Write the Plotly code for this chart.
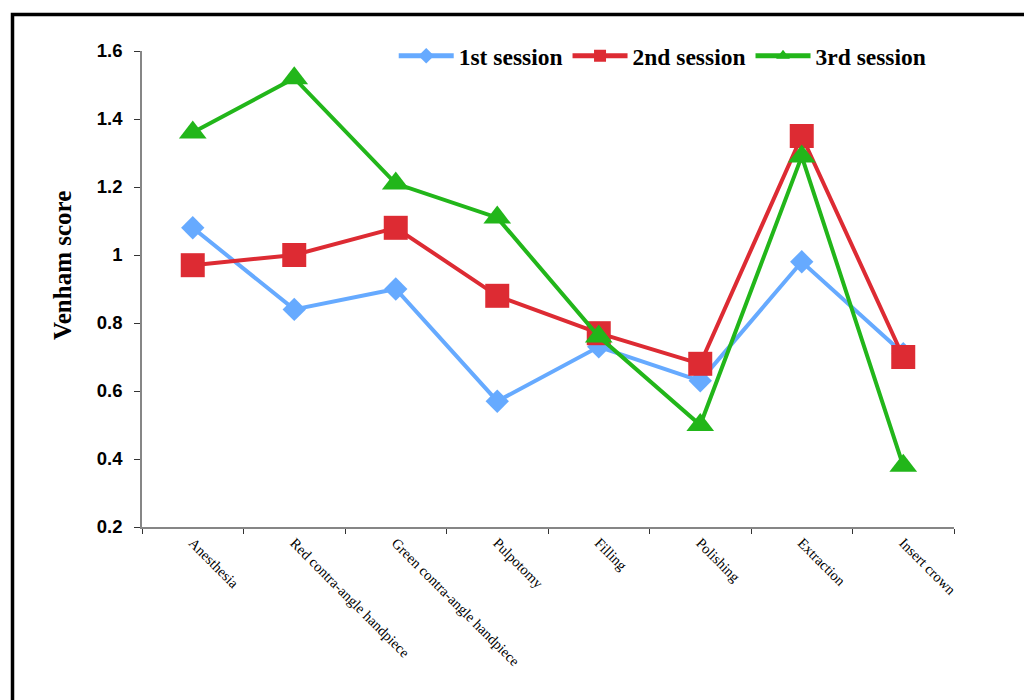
import plotly.graph_objects as go

# Dental procedures on the x axis
procedures = [
    "Anesthesia",
    "Red contra-angle handpiece",
    "Green contra-angle handpiece",
    "Pulpotomy",
    "Filling",
    "Polishing",
    "Extraction",
    "Insert crown",
]

# Mean Venham score per session
session1 = [1.08, 0.84, 0.90, 0.57, 0.73, 0.63, 0.98, 0.71]
session2 = [0.97, 1.00, 1.08, 0.88, 0.77, 0.68, 1.35, 0.70]
session3 = [1.36, 1.52, 1.21, 1.11, 0.76, 0.50, 1.29, 0.38]

series_names = ["1st session", "2nd session", "3rd session"]
y_ticks = [0.2, 0.4, 0.6, 0.8, 1.0, 1.2, 1.4, 1.6]
y_tick_text = ["0.2", "0.4", "0.6", "0.8", "1", "1.2", "1.4", "1.6"]

styles = [
    dict(color="#66AAFF", symbol="diamond", size=18),
    dict(color="#DD2B33", symbol="square", size=24),
    dict(color="#22B61A", symbol="triangle-up", size=24),
]

fig = go.Figure()
for name, vals, st in zip(series_names, [session1, session2, session3], styles):
    fig.add_trace(go.Scatter(
        x=procedures,
        y=vals,
        name=name,
        mode="lines+markers",
        line=dict(color=st["color"], width=4),
        marker=dict(color=st["color"], symbol=st["symbol"], size=st["size"],
                    line=dict(width=0)),
    ))

axis_grey = "#868686"

fig.update_layout(
    width=1024,
    height=700,
    margin=dict(l=142, r=70, t=51, b=173),
    paper_bgcolor="white",
    plot_bgcolor="white",
    showlegend=True,
    legend=dict(
        orientation="h",
        x=0.31, y=0.9895, xanchor="left", yanchor="middle",
        font=dict(family="Liberation Serif", size=23.5, color="black", weight="bold"),
        bgcolor="rgba(0,0,0,0)",
        itemwidth=55,
        itemsizing="constant",
    ),
    xaxis=dict(
        type="category",
        range=[-0.5, 7.5],
        showline=True, linecolor=axis_grey, linewidth=1.5,
        ticks="outside", tickson="boundaries", ticklen=5,
        tickcolor="#333333", tickwidth=1,
        tickangle=45,
        tickfont=dict(family="Liberation Serif", size=14.5, color="black"),
        showgrid=False, zeroline=False,
    ),
    yaxis=dict(
        range=[0.2, 1.6],
        tickvals=y_ticks, ticktext=y_tick_text,
        showline=True, linecolor=axis_grey, linewidth=1.5,
        ticks="outside", ticklen=6, tickcolor="#333333", tickwidth=1,
        ticklabelstandoff=8,
        tickfont=dict(family="Liberation Sans", size=18.5, color="black", weight="bold"),
        showgrid=False, zeroline=False,
    ),
    annotations=[
        # y-axis title, placed slightly above the plot's vertical centre
        dict(text="<b>Venham score</b>", textangle=-90,
             xref="paper", yref="paper", x=(62 - 142) / 812, y=(527 - 266) / 476,
             xanchor="center", yanchor="middle", showarrow=False,
             font=dict(family="Liberation Serif", size=25, color="black")),
    ],
    shapes=[
        # outer frame around the chart
        dict(type="rect", xref="paper", yref="paper",
             x0=(12.5 - 142) / 812, x1=1.3,
             y0=-0.6, y1=(527 - 14.5) / 476,
             line=dict(color="black", width=3.5), layer="above"),
    ],
)

fig.write_html("out.html")
